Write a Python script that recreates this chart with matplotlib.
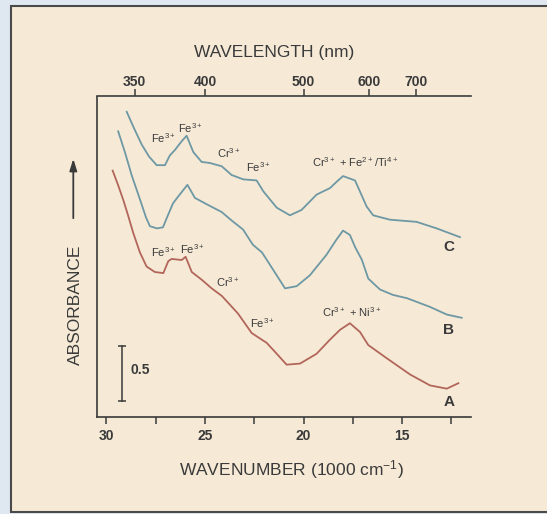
import numpy as np
import matplotlib.pyplot as plt
from matplotlib.patches import Rectangle

plt.rcParams['font.family'] = ['Liberation Sans', 'DejaVu Sans']
plt.rcParams['mathtext.fontset'] = 'custom'
plt.rcParams['mathtext.rm'] = 'Liberation Sans'
plt.rcParams['mathtext.bf'] = 'Liberation Sans:bold'
plt.rcParams['mathtext.default'] = 'regular'

# Spectra: wavenumber (1000 cm-1) and absorbance (traces offset)
wn_c = [28.97, 28.60, 28.21, 27.84, 27.45, 27.03, 26.78, 26.52, 26.18, 25.93,
        25.59, 25.17, 24.75, 24.15, 23.65, 23.06, 22.38, 22.04, 21.36, 20.69,
        20.10, 19.34, 18.66, 18.31, 18.00, 17.39, 16.80, 16.47, 15.62, 14.27,
        13.25, 12.07]
abs_c = [2.80, 2.65, 2.50, 2.39, 2.31, 2.31, 2.40, 2.45, 2.53, 2.58,
         2.43, 2.34, 2.33, 2.30, 2.22, 2.18, 2.17, 2.07, 1.92, 1.85,
         1.90, 2.04, 2.10, 2.16, 2.21, 2.17, 1.93, 1.85, 1.81, 1.79,
         1.73, 1.65]

wn_b = [29.40, 29.06, 28.72, 28.21, 27.99, 27.79, 27.43, 27.13, 26.88, 26.62,
        26.37, 25.89, 25.51, 25.00, 24.15, 23.63, 23.07, 22.57, 22.11, 21.54,
        20.94, 20.35, 19.68, 18.83, 18.36, 18.00, 17.65, 17.39, 17.04, 16.72,
        16.13, 15.47, 14.76, 13.59, 12.74, 11.98]
abs_b = [2.62, 2.43, 2.22, 1.95, 1.83, 1.75, 1.73, 1.74, 1.85, 1.96,
         2.02, 2.13, 2.01, 1.96, 1.88, 1.80, 1.72, 1.58, 1.51, 1.35,
         1.18, 1.20, 1.30, 1.49, 1.62, 1.71, 1.67, 1.56, 1.44, 1.27,
         1.17, 1.12, 1.09, 1.01, 0.94, 0.91]

wn_a = [29.68, 29.41, 29.14, 28.90, 28.64, 28.30, 27.96, 27.54, 27.11, 26.86,
        26.69, 26.18, 25.98, 25.67, 25.17, 24.66, 24.14, 23.33, 22.63, 21.87,
        21.36, 20.86, 20.18, 19.34, 18.66, 18.15, 17.65, 17.14, 16.72, 15.79,
        14.60, 13.59, 12.74, 12.15]
abs_a = [2.26, 2.13, 1.99, 1.85, 1.69, 1.51, 1.38, 1.33, 1.32, 1.43,
         1.45, 1.44, 1.47, 1.33, 1.26, 1.18, 1.11, 0.95, 0.77, 0.68,
         0.58, 0.48, 0.49, 0.58, 0.71, 0.80, 0.86, 0.78, 0.66, 0.54,
         0.39, 0.29, 0.26, 0.31]

wn_ticks = [30, 25, 20, 15]
wn_minor = [27.5, 22.5, 17.5, 12.5]
nm_ticks = [350, 400, 500, 600, 700]

W, H = 547, 514
ink = '#3a3a3a'
teal = '#6d98a4'
red = '#b2665a'

fig = plt.figure(figsize=(W / 100, H / 100), dpi=100, facecolor='#dfe7f1')
fig.patches.append(Rectangle((10.5 / W, 2 / H), 1.0, (508 - 2) / H,
                             transform=fig.transFigure, fc='#f6ead7',
                             ec='#4a4a4a', lw=1.5, zorder=-10))


def ftext(px, py, s, **kw):
    # place text by pixel position in the figure
    kw.setdefault('ha', 'center')
    kw.setdefault('va', 'center')
    kw.setdefault('color', ink)
    fig.text(px / W, 1 - py / H, s, **kw)


ax = fig.add_axes([96.7 / W, 1 - 417 / H, (471 - 96.7) / W, (417 - 96.5) / H])
ax.set_facecolor('none')
ax.set_xlim(30.49, 11.51)
ax.set_ylim(0, 2.94)

ax.plot(wn_c, abs_c, color=teal, lw=1.3, solid_joinstyle='round')
ax.plot(wn_b, abs_b, color=teal, lw=1.3, solid_joinstyle='round')
ax.plot(wn_a, abs_a, color=red, lw=1.3, solid_joinstyle='round')

# 0.5 absorbance scale bar
ax.plot([29.22, 29.22], [0.15, 0.65], color=ink, lw=1.1,
        marker='_', markersize=6, mew=1.1)

for s in ['right', 'top']:
    ax.spines[s].set_visible(False)
for s in ['left', 'bottom']:
    ax.spines[s].set_color(ink)
    ax.spines[s].set_linewidth(1.2)
ax.set_yticks([])
ax.set_xticks(wn_ticks)
ax.set_xticks(wn_minor, minor=True)
ax.set_xticklabels([str(t) for t in wn_ticks], fontweight='bold')
ax.tick_params(axis='x', which='both', direction='out', length=5, width=1.1,
               color=ink, labelcolor=ink, labelsize=10, pad=4)

sec = ax.secondary_xaxis('top', functions=(lambda w: 1e4 / np.asarray(w, float),
                                           lambda nm: 1e4 / np.asarray(nm, float)))
sec.set_xticks(nm_ticks)
sec.set_xticklabels([str(t) for t in nm_ticks], fontweight='bold')
sec.spines['top'].set_color(ink)
sec.spines['top'].set_linewidth(1.2)
sec.tick_params(axis='x', direction='out', length=5, width=1.1,
                color=ink, labelcolor=ink, labelsize=10, pad=0.5)

ftext(274.5, 52, 'WAVELENGTH (nm)', fontsize=12.5)
ftext(291, 470, 'WAVENUMBER (1000 cm$^{-1}$)', fontsize=12.5)
ftext(75, 305, 'ABSORBANCE', fontsize=12.5, rotation=90)
ax.annotate('', xy=(73.3 / W, 1 - 156 / H), xytext=(73.3 / W, 1 - 221 / H),
            xycoords='figure fraction',
            arrowprops=dict(arrowstyle='-|>,head_length=0.7,head_width=0.22',
                            color=ink, lw=1.3))
ftext(140, 370, '0.5', fontsize=10, fontweight='bold')

fe3 = 'Fe$^{3+}$'
cr3 = 'Cr$^{3+}$'
ion = dict(fontsize=8)
# trace C
ftext(164, 137.7, fe3, **ion)
ftext(191, 127.7, fe3, **ion)
ftext(229, 153, cr3, **ion)
ftext(258.5, 166.7, fe3, **ion)
ftext(355, 161.7, 'Cr$^{3+}$ + Fe$^{2+}$/Ti$^{4+}$', **ion)
# trace A
ftext(164, 251.7, fe3, **ion)
ftext(193, 249.3, fe3, **ion)
ftext(227.5, 281.7, cr3, **ion)
ftext(262.5, 323.3, fe3, **ion)
ftext(352, 311.7, 'Cr$^{3+}$ + Ni$^{3+}$', **ion)

for lab, py in [('C', 246.7), ('B', 330), ('A', 402)]:
    ftext(449, py, lab, fontsize=11, fontweight='bold')

fig.savefig('out.png', dpi=100, facecolor=fig.get_facecolor())
